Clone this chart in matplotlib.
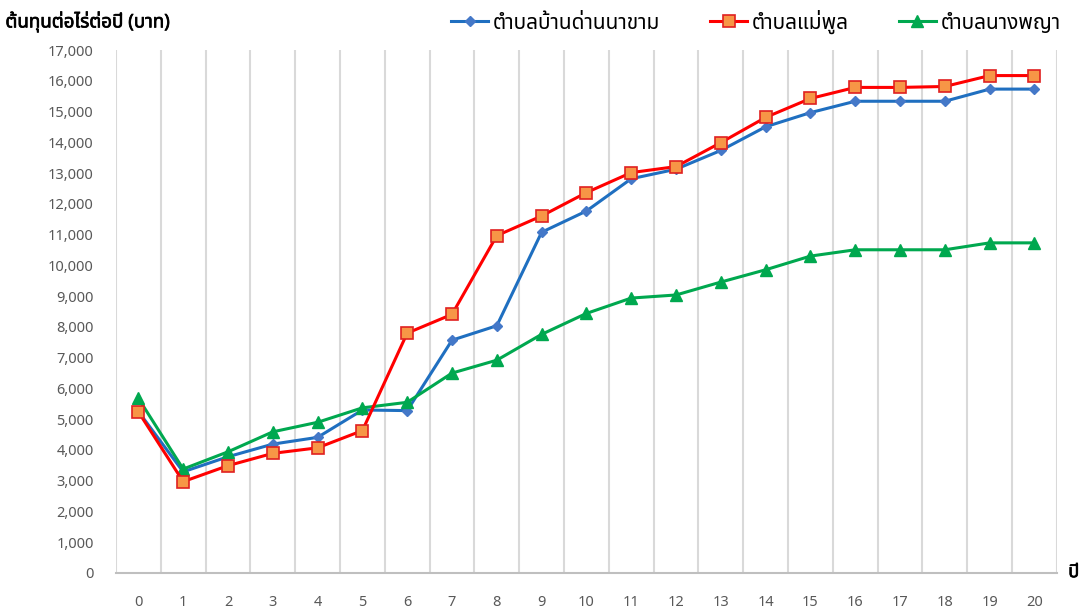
import numpy as np
import matplotlib
matplotlib.use("Agg")
import matplotlib.pyplot as plt
import matplotlib.patheffects as pe
from matplotlib.ticker import FuncFormatter, MultipleLocator

plt.rcParams['font.family'] = ['Noto Sans Thai', 'Noto Sans', 'DejaVu Sans']

# years 0-20
years = list(range(21))

# cost per rai per year (baht)
ban_dan_na_kham = [5250, 3290, 3780, 4190, 4410, 5300, 5280, 7570, 8040, 11080, 11770,
                   12820, 13130, 13740, 14510, 14970, 15340, 15340, 15340, 15735, 15735]
mae_phun = [5240, 2970, 3490, 3890, 4070, 4630, 7800, 8410, 10970, 11610, 12370,
            13020, 13215, 13995, 14815, 15430, 15790, 15790, 15820, 16175, 16175]
nang_phaya = [5680, 3380, 3940, 4590, 4900, 5370, 5550, 6500, 6920, 7760, 8440,
              8940, 9040, 9460, 9860, 10305, 10510, 10510, 10510, 10735, 10735]

series_names = ["ตำบลบ้านด่านนาขาม", "ตำบลแม่พูล", "ตำบลนางพญา"]

fig = plt.figure(figsize=(10.89, 6.10), dpi=100)
ax = fig.add_axes([0.1065, 0.0607, 0.864, 0.857])

ax.plot(years, ban_dan_na_kham, color="#1F6FC0", lw=2.2, marker="D", markersize=5,
        markerfacecolor="#4478C8", markeredgecolor="#4478C8", label=series_names[0], zorder=3)
ax.plot(years, mae_phun, color="#FF0000", lw=2.2, marker="s", markersize=8,
        markerfacecolor="#F79646", markeredgecolor="#E02020", markeredgewidth=1.2,
        label=series_names[1], zorder=4)
ax.plot(years, nang_phaya, color="#00A84F", lw=2.2, marker="^", markersize=8,
        markerfacecolor="#00A84F", markeredgecolor="#00A84F", label=series_names[2], zorder=3)

ax.set_xlim(-0.5, 20.5)
ax.set_ylim(0, 17000)
ax.set_xticks(years)
ax.xaxis.set_minor_locator(MultipleLocator(1, offset=0.5))
ax.yaxis.set_major_locator(MultipleLocator(1000))
ax.yaxis.set_major_formatter(FuncFormatter(lambda v, p: "{:,.0f}".format(v)))
ax.grid(which="minor", axis="x", color="#D9D9D9", lw=1.5)
ax.tick_params(which="both", length=0)
ax.tick_params(axis="x", pad=16, labelsize=10.5, labelcolor="#595959")
ax.tick_params(axis="y", pad=16, labelsize=10.5, labelcolor="#595959")

for s in ["top", "right", "left"]:
    ax.spines[s].set_visible(False)
ax.spines["bottom"].set_color("#BFBFBF")
ax.spines["bottom"].set_linewidth(1.5)

# faux bold, the Thai font has only a regular face
bold = [pe.withStroke(linewidth=0.5, foreground="black")]
fig.text(0.981, 0.062, "ปี", fontsize=13, ha="left", va="center", path_effects=bold)
fig.text(0.005, 0.965, "ต้นทุนต่อไร่ต่อปี (บาท)", fontsize=13.5,
         ha="left", va="center", path_effects=bold)

fig.legend(loc="upper right", bbox_to_anchor=(0.991, 1.015), ncol=3, frameon=False,
           fontsize=15, handlelength=1.8, columnspacing=2.4, handletextpad=0.2)

fig.savefig("out.png", dpi=100)
